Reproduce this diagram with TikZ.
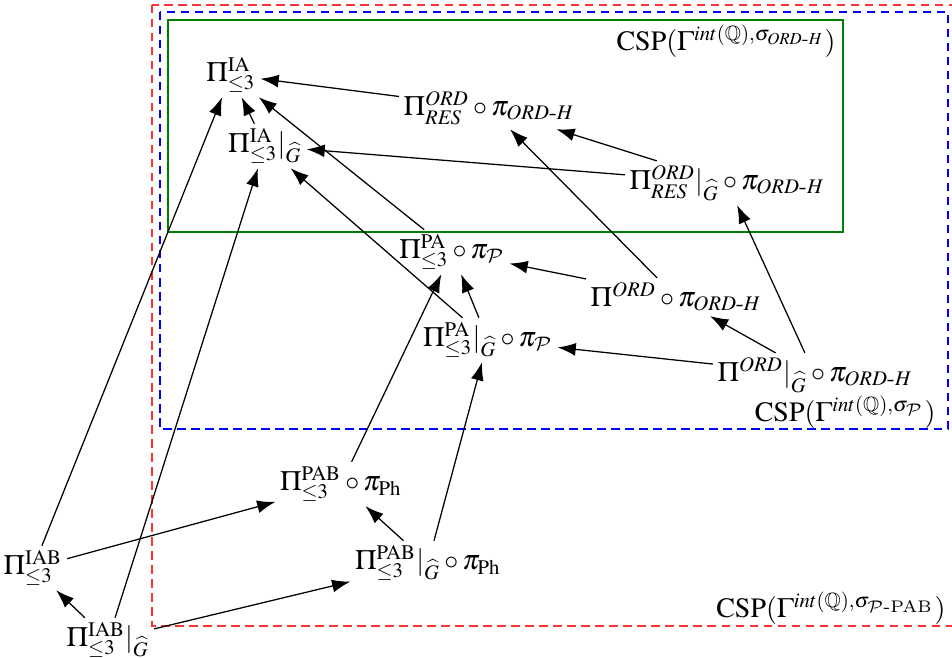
\documentclass[tikz,border=0pt]{standalone}
\usepackage{amsmath,amssymb}
\usepackage{mathptmx}
\DeclareMathAlphabet{\mathcal}{OMS}{cmsy}{m}{n}
\usetikzlibrary{arrows.meta}
\newcommand{\ordh}{\mathit{ORD}\text{-}\mathit{H}}
\begin{document}
\begin{tikzpicture}[x=0.357pt,y=-0.357pt,
  nd/.style={inner sep=1.5pt,font=\fontsize{10}{12}\selectfont},
  lbl/.style={inner sep=0pt,font=\fontsize{10}{12}\selectfont},
  arr/.style={-{Latex[length=6.5pt,width=4.6pt]},line width=0.45pt},
  redbox/.style={draw=red!80,dash pattern=on 3pt off 2pt,line width=0.5pt},
  bluebox/.style={draw=blue,dash pattern=on 3pt off 2pt,line width=0.5pt},
  greenbox/.style={draw=green!50!black,line width=0.5pt}]
\useasboundingbox (0,0) rectangle (952,658);
\begin{scope}
\clip (0,0) rectangle (952,658);
\draw[redbox] (152,5) rectangle (970,626);
\end{scope}
\draw[bluebox] (160,12) rectangle (948,429);
\draw[greenbox] (168,20) rectangle (843,232);
\node[lbl,anchor=east] (lg) at (836,41) {$\mathrm{CSP}(\Gamma^{int(\mathbb{Q}),\sigma_{\ordh}})$};
\node[lbl,anchor=east] (lb) at (936,412) {$\mathrm{CSP}(\Gamma^{int(\mathbb{Q}),\sigma_{\mathcal{P}}})$};
\node[lbl,anchor=east] (lr) at (946,608) {$\mathrm{CSP}(\Gamma^{int(\mathbb{Q}),\sigma_{\mathcal{P}\text{-PAB}}})$};
% nodes
\node[nd] (ia) at (231,75) {$\Pi^{\mathrm{IA}}_{\leq 3}$};
\node[nd] (ores) at (489,108) {$\Pi^{\mathit{ORD}}_{\mathit{RES}} \circ \pi_{\ordh}$};
\node[nd] (iag) at (265,146) {$\Pi^{\mathrm{IA}}_{\leq 3}|_{\widehat{G}}$};
\node[nd] (oresg) at (727,183) {$\Pi^{\mathit{ORD}}_{\mathit{RES}}|_{\widehat{G}} \circ \pi_{\ordh}$};
\node[nd] (pa) at (452,252) {$\Pi^{\mathrm{PA}}_{\leq 3} \circ \pi_{\mathcal{P}}$};
\node[nd] (ord) at (676,297) {$\Pi^{\mathit{ORD}} \circ \pi_{\ordh}$};
\node[nd] (pag) at (488,340) {$\Pi^{\mathrm{PA}}_{\leq 3}|_{\widehat{G}} \circ \pi_{\mathcal{P}}$};
\node[nd] (ordg) at (815,375) {$\Pi^{\mathit{ORD}}|_{\widehat{G}} \circ \pi_{\ordh}$};
\node[nd] (pab) at (341,484) {$\Pi^{\mathrm{PAB}}_{\leq 3} \circ \pi_{\mathrm{Ph}}$};
\node[nd] (iab) at (33,568) {$\Pi^{\mathrm{IAB}}_{\leq 3}$};
\node[nd] (pabg) at (428,563) {$\Pi^{\mathrm{PAB}}_{\leq 3}|_{\widehat{G}} \circ \pi_{\mathrm{Ph}}$};
\node[nd] (iabg) at (108,640) {$\Pi^{\mathrm{IAB}}_{\leq 3}|_{\widehat{G}}$};
% arrows
\draw[arr] (ores) -- (ia);
\draw[arr] (oresg) -- (ores);
\draw[arr] (oresg) -- (iag);
\draw[arr] (iag) -- (ia);
\draw[arr] (pa) -- (ia);
\draw[arr] (pag) -- (iag);
\draw[arr] (pag) -- (pa);
\draw[arr] (ord) -- (pa);
\draw[arr] (ord) -- (ores);
\draw[arr] (ordg) -- (ord);
\draw[arr] (ordg) -- (pag);
\draw[arr] (ordg) -- (oresg);
\draw[arr] (pab) -- (pa);
\draw[arr] (pabg) -- (pab);
\draw[arr] (pabg) -- (pag);
\draw[arr] (iab) -- (pab);
\draw[arr] (iabg) -- (iab);
\draw[arr] (iabg) -- (pabg);
\draw[arr] (iab) -- (ia);
\draw[arr] (iabg) -- (iag);
\end{tikzpicture}
\end{document}
